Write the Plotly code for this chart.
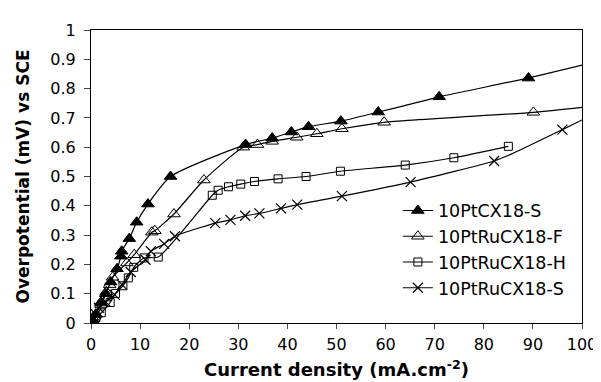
import plotly.graph_objects as go

# ---- data ----
# 10PtCX18-S (filled triangles)
a_x = [0, 0.3, 1, 2, 3, 4, 5.3, 6.1, 6.25, 7.8, 9.3, 11.6, 16.2, 31.5, 36.9, 40.8, 44.3, 50.9, 58.5, 63.9, 70.9, 89.1, 100]
a_y = [0, 0.01, 0.03, 0.07, 0.10, 0.14, 0.185, 0.228, 0.245, 0.288, 0.344, 0.406, 0.50, 0.609, 0.631, 0.652, 0.670, 0.689, 0.72, 0.742, 0.772, 0.836, 0.88]
a_marked = [0, 1, 2, 3, 4, 5, 6, 7, 8, 9, 10, 11, 12, 13, 14, 15, 16, 17, 18, 20, 21]

# 10PtRuCX18-F (open triangles)
b_x = [0, 0.5, 1, 2.0, 2.7, 3.1, 3.8, 4.4, 7.3, 8.8, 12.4, 13.0, 16.9, 23.0, 31.0, 33.9, 36.9, 41.9, 46.0, 51.1, 59.7, 90.1, 100]
b_y = [0, 0.015, 0.03, 0.063, 0.085, 0.106, 0.131, 0.156, 0.205, 0.233, 0.31, 0.315, 0.372, 0.488, 0.600, 0.609, 0.620, 0.634, 0.646, 0.663, 0.685, 0.719, 0.736]
b_marked = list(range(22))

# 10PtRuCX18-H (open squares)
c_x = [0, 0.5, 1, 2.1, 3.9, 5.0, 6.5, 7.6, 8.7, 10.8, 13.7, 24.7, 25.9, 28.0, 30.5, 33.3, 38.1, 43.8, 50.8, 64.0, 73.9, 85.0]
c_y = [0, 0.01, 0.02, 0.035, 0.07, 0.101, 0.127, 0.154, 0.19, 0.222, 0.225, 0.436, 0.453, 0.465, 0.474, 0.483, 0.492, 0.500, 0.518, 0.539, 0.564, 0.603]
c_marked = list(range(22))

# 10PtRuCX18-S (crosses)
d_x = [0, 0.5, 1.0, 1.6, 3.0, 4.8, 6.3, 8.1, 11.1, 12.2, 14.9, 17.1, 25.3, 28.4, 31.4, 34.3, 38.7, 42.0, 51.1, 65.1, 82.1, 85.8, 96.0, 100]
d_y = [0, 0.015, 0.03, 0.052, 0.072, 0.097, 0.131, 0.174, 0.216, 0.245, 0.27, 0.296, 0.341, 0.352, 0.366, 0.374, 0.391, 0.404, 0.433, 0.481, 0.553, 0.578, 0.66, 0.693]
d_marked = [i for i in range(24) if i not in (21, 23)]

names = ["10PtCX18-S", "10PtRuCX18-F", "10PtRuCX18-H", "10PtRuCX18-S"]

x_ticks = list(range(0, 101, 10))
y_ticks = [0, 0.1, 0.2, 0.3, 0.4, 0.5, 0.6, 0.7, 0.8, 0.9, 1]
y_tick_text = ["0", "0.1", "0.2", "0.3", "0.4", "0.5", "0.6", "0.7", "0.8", "0.9", "1"]

styles = [
    dict(symbol="triangle-up", size=11, color="black", line=dict(color="black", width=1)),
    dict(symbol="triangle-up-open", size=11, color="black", line=dict(color="black", width=1)),
    dict(symbol="square-open", size=8, color="black", line=dict(color="black", width=1)),
    dict(symbol="x-thin-open", size=10, color="black", line=dict(color="black", width=1.2)),
]

series = [(a_x, a_y, a_marked), (b_x, b_y, b_marked), (c_x, c_y, c_marked), (d_x, d_y, d_marked)]

fig = go.Figure()
for (xs, ys, mk), nm, st in zip(series, names, styles):
    fig.add_trace(go.Scatter(x=xs, y=ys, mode="lines", showlegend=False,
                             line=dict(color="black", width=1.2, shape="spline", smoothing=0.6),
                             hoverinfo="skip"))
    fig.add_trace(go.Scatter(x=[xs[i] for i in mk], y=[ys[i] for i in mk], mode="markers",
                             showlegend=False, marker=st, name=nm))
for nm, st in zip(names, styles):
    fig.add_trace(go.Scatter(x=[None], y=[None], mode="lines+markers", name=nm,
                             line=dict(color="black", width=1.2), marker=st))

fig.update_layout(
    width=601, height=382,
    margin=dict(l=83, r=22, t=22, b=67),
    paper_bgcolor="white", plot_bgcolor="white",
    font=dict(family="DejaVu Sans", size=16, color="black"),
    showlegend=True,
    legend=dict(x=0.625, y=0.445, xanchor="left", yanchor="top",
                bgcolor="rgba(0,0,0,0)", font=dict(size=17.5, family="DejaVu Sans"),
                tracegroupgap=0, itemwidth=30),
)
fig.update_xaxes(range=[0, 100], tickvals=x_ticks, ticks="outside", ticklen=5,
                 ticklabelstandoff=2,
                 showline=True, linecolor="black", linewidth=1, mirror=True,
                 showgrid=False, zeroline=False,
                 title=dict(text="<b>Current density (mA.cm<sup>-2</sup>)</b>",
                            font=dict(size=18, family="DejaVu Sans"), standoff=10))
fig.update_yaxes(range=[0, 1], tickvals=y_ticks, ticktext=y_tick_text, ticks="outside", ticklen=6,
                 ticklabelstandoff=5,
                 showline=True, linecolor="black", linewidth=1, mirror=True,
                 showgrid=False, zeroline=False,
                 title=dict(text="<b>Overpotential (mV) vs SCE</b>",
                            font=dict(size=17, family="DejaVu Sans"), standoff=16))

fig.write_html("out.html")
